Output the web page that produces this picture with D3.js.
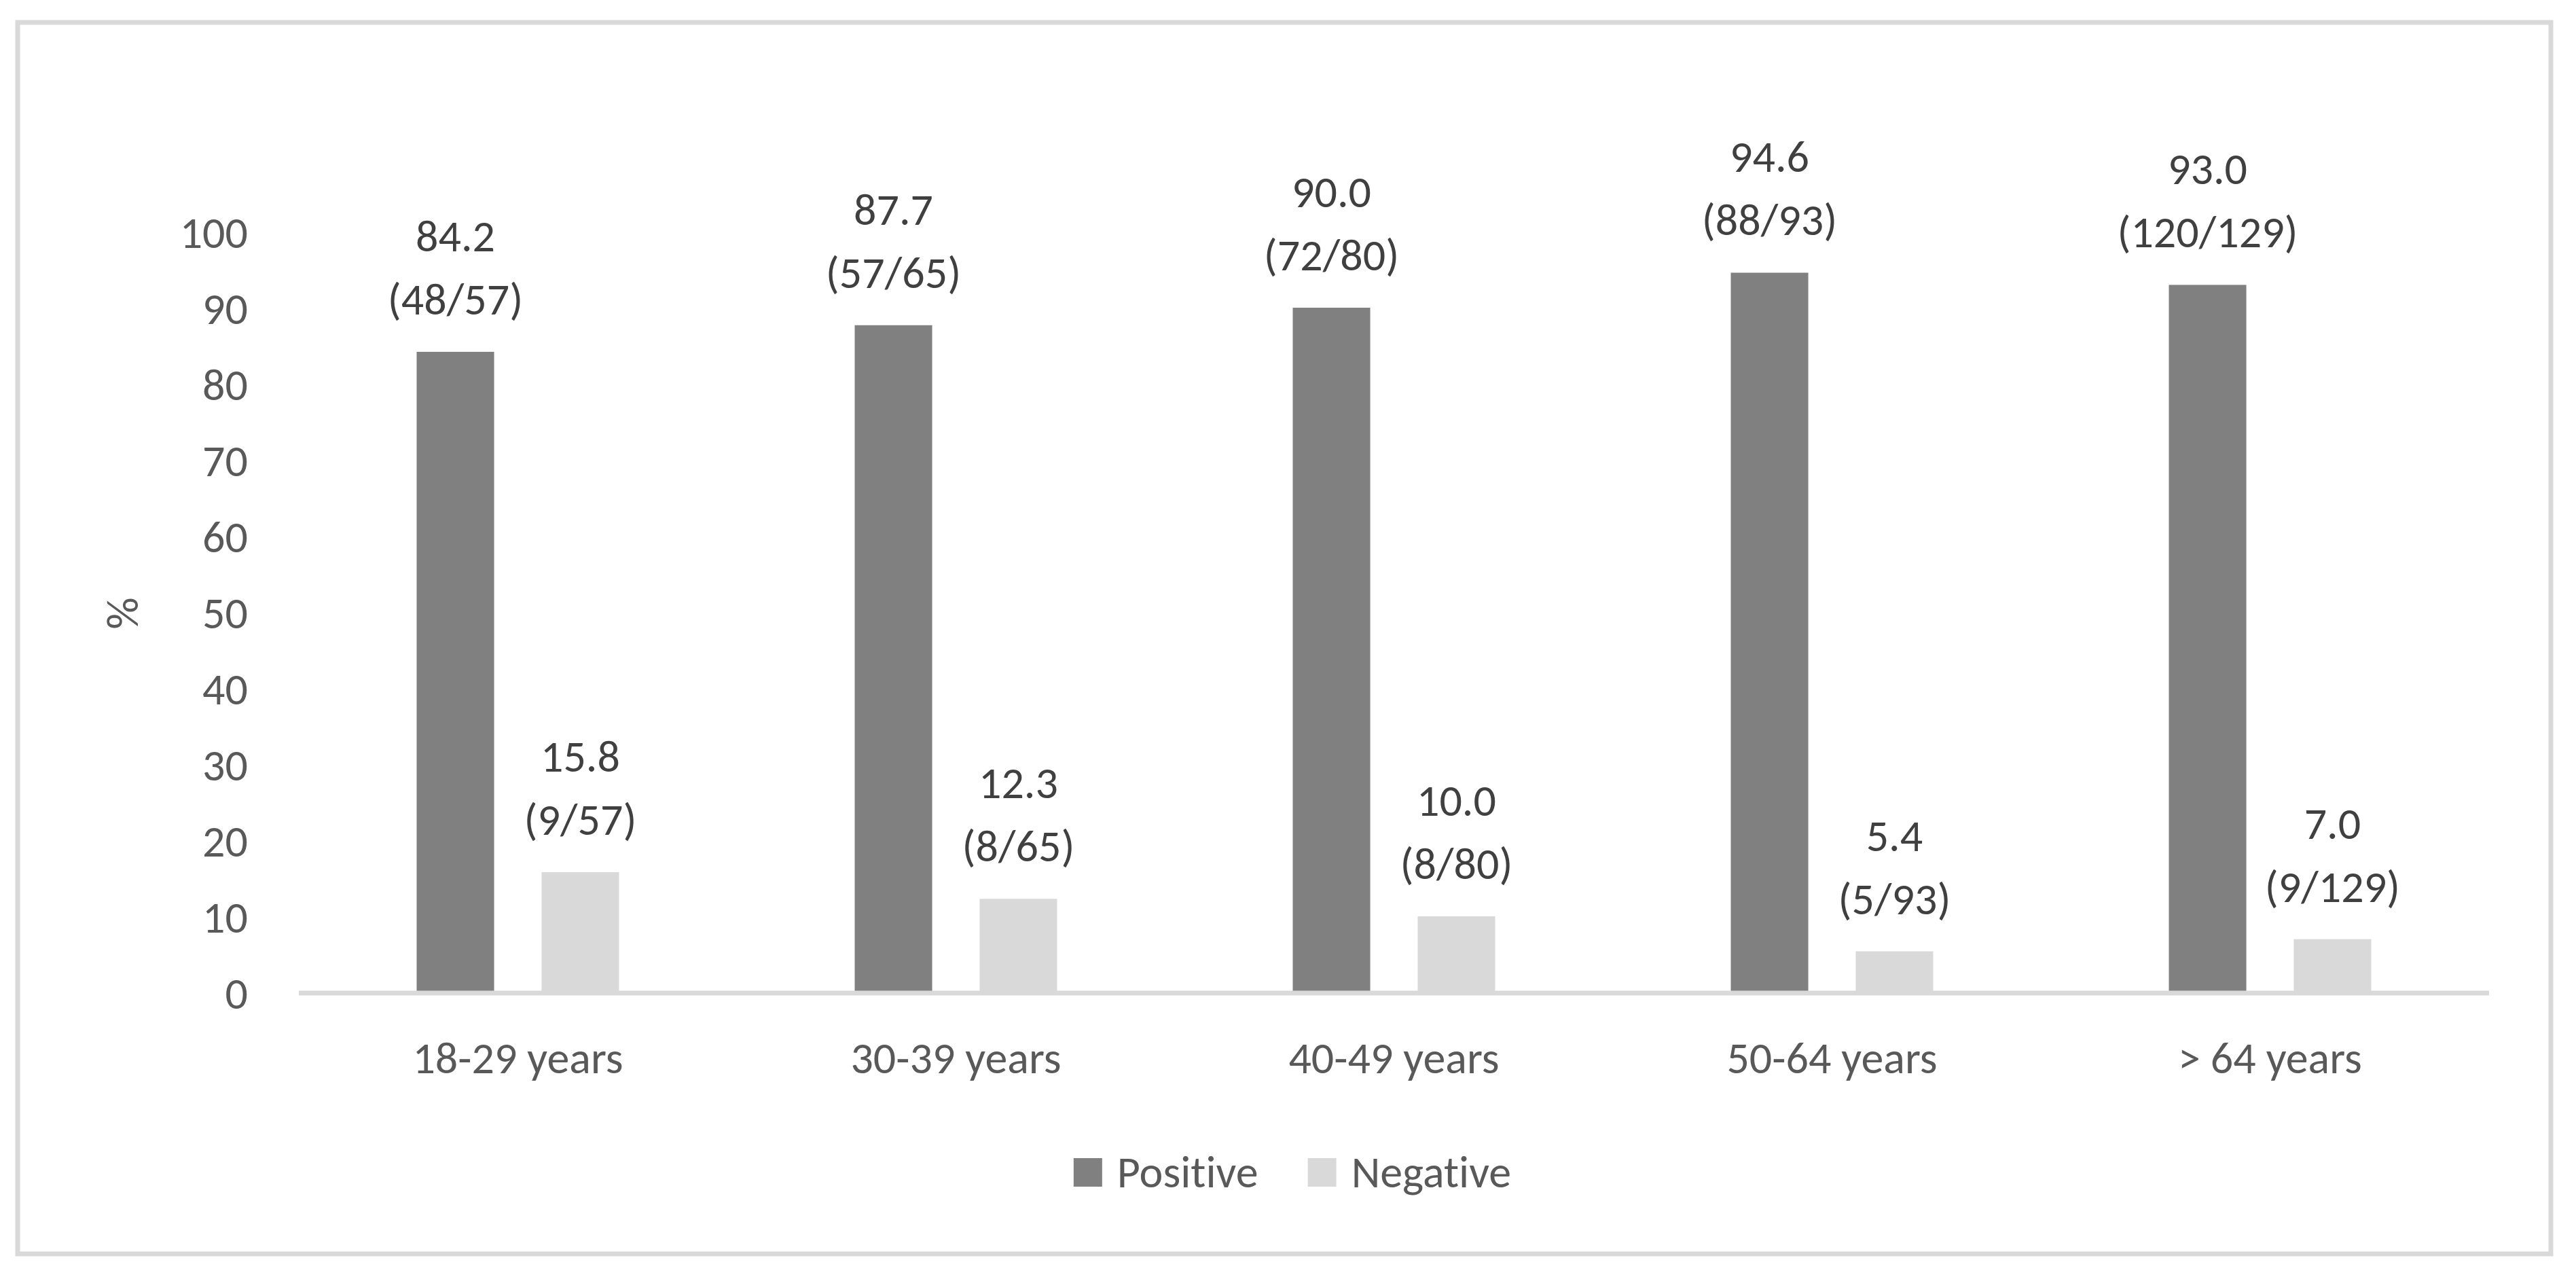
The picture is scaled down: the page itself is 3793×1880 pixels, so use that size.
<!DOCTYPE html>
<html>
<head>
<meta charset="utf-8">
<script src="https://cdn.jsdelivr.net/npm/d3@7"></script>
<style>
  body { margin: 0; background: #fff; }
  text { font-family: Carlito, Calibri, Lato, sans-serif; font-variant-ligatures: none; }
</style>
</head>
<body>
<svg id="chart" width="3793" height="1880"></svg>
<script>
// data
var categories = ["18-29 years", "30-39 years", "40-49 years", "50-64 years", "> 64 years"];
var series = ["Positive", "Negative"];
var positive = [84.2, 87.7, 90.0, 94.6, 93.0];
var negative = [15.8, 12.3, 10.0, 5.4, 7.0];
var positiveN = [48, 57, 72, 88, 120];
var negativeN = [9, 8, 8, 5, 9];
var totals = [57, 65, 80, 93, 129];
var yTicks = [0, 10, 20, 30, 40, 50, 60, 70, 80, 90, 100];

var colors = { Positive: "#808080", Negative: "#d9d9d9" };

var svg = d3.select("#chart");

// outer frame
svg.append("rect")
  .attr("x", 26).attr("y", 33)
  .attr("width", 3730).attr("height", 1813)
  .attr("fill", "none")
  .attr("stroke", "#d9d9d9")
  .attr("stroke-width", 7);

var plotLeft = 440, plotRight = 3665, plotTop = 341, plotBottom = 1461;

var x0 = d3.scaleBand().domain(categories).range([plotLeft, plotRight]).padding(0);
var groupW = x0.bandwidth() * 0.462;
var x1 = d3.scaleBand().domain(series)
  .range([x0.bandwidth() / 2 - groupW / 2, x0.bandwidth() / 2 + groupW / 2])
  .paddingInner(0.38).paddingOuter(0);
var y = d3.scaleLinear().domain([0, 100]).range([plotBottom, plotTop]);

// y axis labels
var yAxis = svg.append("g")
  .attr("transform", "translate(" + (plotLeft - 75) + ",0)")
  .call(d3.axisLeft(y).tickValues(yTicks).tickSize(0).tickPadding(0));
yAxis.select(".domain").remove();
yAxis.selectAll("text")
  .attr("font-size", 66)
  .attr("fill", "#595959")
  .attr("dy", "0.36em")
  .style("font-family", "Carlito, Calibri, Lato, sans-serif");

// y title
svg.append("text")
  .attr("transform", "translate(203,903) rotate(-90)")
  .attr("text-anchor", "middle")
  .attr("font-size", 66)
  .attr("fill", "#595959")
  .text("%");

// bars
var rows = categories.map(function(c, i) {
  return {
    cat: c,
    vals: [
      { s: "Positive", v: positive[i], n: positiveN[i], t: totals[i] },
      { s: "Negative", v: negative[i], n: negativeN[i], t: totals[i] }
    ]
  };
});

var groups = svg.append("g").selectAll("g")
  .data(rows)
  .enter()
  .append("g")
  .attr("transform", function(d) { return "translate(" + x0(d.cat) + ",0)"; });

groups.selectAll("rect")
  .data(function(d) { return d.vals; })
  .enter()
  .append("rect")
  .attr("x", function(d) { return x1(d.s); })
  .attr("width", x1.bandwidth())
  .attr("y", function(d) { return y(d.v); })
  .attr("height", function(d) { return y(0) - y(d.v); })
  .attr("fill", function(d) { return colors[d.s]; });

// data labels, two lines
var labels = groups.selectAll("text.lbl")
  .data(function(d) { return d.vals; })
  .enter()
  .append("text")
  .attr("class", "lbl")
  .attr("text-anchor", "middle")
  .attr("font-size", 66)
  .attr("fill", "#404040");
labels.append("tspan")
  .attr("x", function(d) { return x1(d.s) + x1.bandwidth() / 2; })
  .attr("y", function(d) { return y(d.v) - 148; })
  .text(function(d) { return d.v.toFixed(1); });
labels.append("tspan")
  .attr("x", function(d) { return x1(d.s) + x1.bandwidth() / 2; })
  .attr("y", function(d) { return y(d.v) - 55; })
  .text(function(d) { return "(" + d.n + "/" + d.t + ")"; });

// x axis line
svg.append("line")
  .attr("x1", plotLeft).attr("x2", plotRight)
  .attr("y1", y(0) + 1).attr("y2", y(0) + 1)
  .attr("stroke", "#d9d9d9")
  .attr("stroke-width", 7);

// category labels
var xAxis = svg.append("g")
  .attr("transform", "translate(0," + 1580 + ")")
  .call(d3.axisBottom(x0).tickSize(0).tickPadding(0));
xAxis.select(".domain").remove();
xAxis.selectAll("text")
  .attr("font-size", 66)
  .attr("fill", "#595959")
  .attr("dy", 0)
  .attr("y", 0)
  .style("font-family", "Carlito, Calibri, Lato, sans-serif");

// legend
var legend = svg.append("g");
var items = legend.selectAll("g")
  .data(series)
  .enter()
  .append("g");
items.append("rect")
  .attr("width", 42).attr("height", 42)
  .attr("y", 1705)
  .attr("fill", function(d) { return colors[d]; });
items.append("text")
  .attr("x", 64)
  .attr("y", 1748)
  .attr("font-size", 66)
  .attr("fill", "#595959")
  .text(function(d) { return d; });

var widths = [];
items.each(function() { widths.push(this.getBBox().width); });
var totalW = widths[0] + 73 + widths[1];
var startX = 1903 - totalW / 2;
items.attr("transform", function(d, i) {
  var xx = startX + (i === 0 ? 0 : widths[0] + 73);
  return "translate(" + xx + ",0)";
});
</script>
</body>
</html>
